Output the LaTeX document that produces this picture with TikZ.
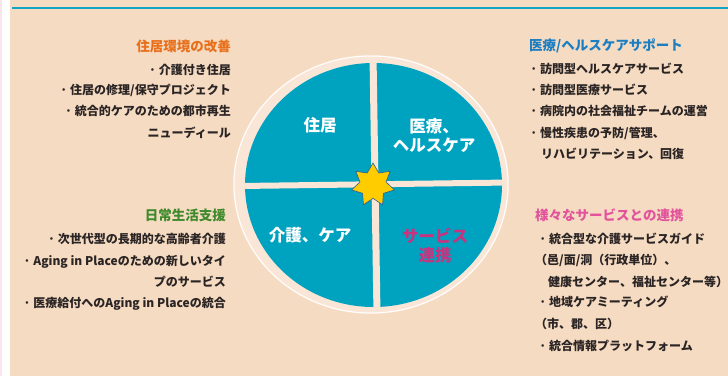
\documentclass[tikz,border=0pt]{standalone}
\usepackage{fontspec}
\setmainfont{Noto Sans CJK JP}
\usetikzlibrary{shapes.geometric}
\definecolor{bgbeige}{HTML}{F5DBC1}
\definecolor{ringbeige}{HTML}{FAE6D6}
\definecolor{tealq}{HTML}{00A3BF}
\definecolor{topline}{HTML}{12A5C6}
\definecolor{pinkstrip}{HTML}{FCE6EE}
\definecolor{txtdark}{HTML}{2A2424}
\definecolor{orangeT}{HTML}{E8701C}
\definecolor{blueT}{HTML}{1C7EC2}
\definecolor{greenT}{HTML}{3E8A2C}
\definecolor{pinkT}{HTML}{E2539C}
\definecolor{magentaQ}{HTML}{C8337F}
\definecolor{starfill}{HTML}{FFCC00}
\definecolor{starline}{HTML}{2B5C96}
\newcommand\bul{\makebox[10pt][l]{·}}
\tikzset{
  body/.style={font=\fontsize{12}{14}\selectfont\bfseries, text=txtdark, inner sep=0pt},
  ttl/.style={font=\fontsize{13.5}{16}\selectfont\bfseries, inner sep=0pt},
  qlabel/.style={font=\fontsize{16.5}{20}\selectfont\bfseries, text=white, inner sep=0pt, align=center},
}
\begin{document}
\begin{tikzpicture}[x=1pt,y=-1pt]
\useasboundingbox (0,0) rectangle (728,376);
% background
\fill[white] (0,0) rectangle (728,376);
\fill[pinkstrip] (0,0) rectangle (2,376);
\fill[bgbeige] (10,0) rectangle (728,376);
\draw[topline, line width=1.6pt] (12,8) -- (728,8);
% wheel
\fill[ringbeige] (371,184.5) ellipse [x radius=138, y radius=129.5];
\draw[white, line width=1pt] (371,184.5) ellipse [x radius=137, y radius=128.5];
\begin{scope}
  \clip (373.5,185) ellipse [x radius=128.5, y radius=122];
  \fill[tealq] (240,55) rectangle (510,315);
  \draw[ringbeige, line width=7pt] (373,55) -- (377,315);
  \draw[ringbeige, line width=6pt] (240,186) -- (510,182.5);
\end{scope}
\node[star, star points=7, star point ratio=1.65, minimum size=44pt, inner sep=0pt,
      fill=starfill, draw=starline, line width=0.6pt] (star) at (373,185) {};
% quadrant labels
\node[qlabel] (q1) at (320,125) {住居};
\node[qlabel] (q2) at (434,135) {医療、\\[-1pt]ヘルスケア};
\node[qlabel] (q3) at (310,235) {介護、ケア};
\node[qlabel, text=magentaQ] (q4) at (435,246) {サービス\\[-1pt]連携};
% left top
\node[ttl, text=orangeT, anchor=base east] (lt0) at (231,51) {住居環境の改善};
\node[body, anchor=base east] (lt1) at (231,74) {\bul 介護付き住居};
\node[body, anchor=base east] (lt2) at (231,94.5) {\bul 住居の修理/保守プロジェクト};
\node[body, anchor=base east] (lt3) at (231,115.5) {\bul 統合的ケアのための都市再生};
\node[body, anchor=base east] (lt4) at (231,137.5) {ニューディール};
% right top
\node[ttl, text=blueT, anchor=base west] (rt0) at (529,50) {医療/ヘルスケアサポート};
\node[body, anchor=base west] (rt1) at (530,73.5) {\bul 訪問型ヘルスケアサービス};
\node[body, anchor=base west] (rt2) at (530,94.5) {\bul 訪問型医療サービス};
\node[body, anchor=base west] (rt3) at (530,115.5) {\bul 病院内の社会福祉チームの運営};
\node[body, anchor=base west] (rt4) at (530,137.5) {\bul 慢性疾患の予防/管理、};
\node[body, anchor=base west] (rt5) at (541,158.5) {リハビリテーション、回復};
% left bottom
\node[ttl, text=greenT, anchor=base east] (lb0) at (226,220) {日常生活支援};
\node[body, anchor=base east] (lb1) at (226,243.5) {\bul 次世代型の長期的な高齢者介護};
\node[body, anchor=base east] (lb2) at (226,265.5) {\bul Aging in Placeのための新しいタイ};
\node[body, anchor=base east] (lb3) at (226,286.5) {プのサービス};
\node[body, anchor=base east] (lb4) at (226,307.5) {\bul 医療給付へのAging in Placeの統合};
% right bottom
\node[ttl, text=pinkT, anchor=base west] (rb0) at (535,220) {様々なサービスとの連携};
\node[body, anchor=base west] (rb1) at (539,243.5) {\bul 統合型な介護サービスガイド};
\node[body, anchor=base west] (rb2) at (535,264.5) {（邑/面/洞（行政単位）、};
\node[body, anchor=base west] (rb3) at (548,286.5) {健康センター、福祉センター等）};
\node[body, anchor=base west] (rb4) at (539,306.5) {\bul 地域ケアミーティング};
\node[body, anchor=base west] (rb5) at (535,328.5) {（市、郡、区）};
\node[body, anchor=base west] (rb6) at (539,350.5) {\bul 統合情報プラットフォーム};
\end{tikzpicture}
\end{document}
